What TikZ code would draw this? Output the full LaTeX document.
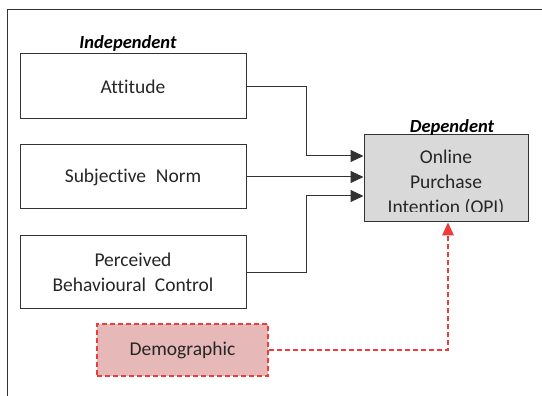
\documentclass[tikz,border=0pt]{standalone}
\usepackage{fontspec}
\setmainfont{Carlito}[Ligatures=NoCommon]
\usetikzlibrary{arrows.meta}
\definecolor{redline}{HTML}{EE3B3B}
\definecolor{demfill}{HTML}{E6B9B8}
\definecolor{opifill}{HTML}{D9D9D9}
\definecolor{txt}{HTML}{262626}
\begin{document}
\begin{tikzpicture}[x=1pt,y=-1pt,
  box/.style={draw=black!80, line width=1pt, fill=white, inner sep=0pt, align=center,
    text=txt, font=\fontsize{19.5}{25}\selectfont},
  lbl/.style={inner sep=0pt, font=\fontsize{18.5}{20}\selectfont\bfseries\itshape},
  conn/.style={draw=black!80, line width=1pt, -{Triangle[length=13pt,width=12pt]}},
  reddash/.style={draw=redline, line width=1.2pt, dash pattern=on 5pt off 3pt}]
\useasboundingbox (0,0) rectangle (542,396);
% outer frame
\draw[black!80, line width=1pt] (7,396) -- (7,10) -- (542,10);
% independent boxes
\node[box, minimum width=226pt, minimum height=65pt] (att) at (133,86.5) {Attitude};
\node[box, minimum width=226pt, minimum height=64pt] (sn) at (133,177) {Subjective\hspace{0.5em}Norm};
\node[box, minimum width=226pt, minimum height=72pt] (pbc) at (133,272) {Perceived\\Behavioural\hspace{0.45em}Control};
\node[lbl] (indep) at (128,43) {Independent};
% dependent box
\node[box, fill=opifill, minimum width=164pt, minimum height=87pt] (opi) at (446,178.5) {};
\begin{scope}
\clip (365,136) rectangle (527,212);
\node[inner sep=0pt, align=center, text=txt, font=\fontsize{19.5}{25}\selectfont] (opitext) at (446,183) {Online\\Purchase\\Intention (OPI)};
\end{scope}
\node[lbl, anchor=base] (dep) at (452,133) {Dependent};
% demographic
\node[box, fill=demfill, draw=redline, line width=1.2pt, dash pattern=on 5pt off 3pt,
  minimum width=171pt, minimum height=52pt] (dem) at (182.5,350) {Demographic};
% connectors
\coordinate (a1) at (306,156);
\coordinate (p1) at (306,196);
\draw[conn] (att.east) -| (a1) -- (a1 -| opi.west);
\draw[conn] (sn.east) -- (sn.east -| opi.west);
\draw[conn] (pbc.east) -| (p1) -- (p1 -| opi.west);
\coordinate (d1) at (448,350);
\draw[reddash] (dem.east) -- (d1) -- ([yshift=-12pt]d1 |- opi.south);
\fill[redline] (d1 |- opi.south) -- ++(-6,13) -- ++(12,0) -- cycle;
\end{tikzpicture}
\end{document}
